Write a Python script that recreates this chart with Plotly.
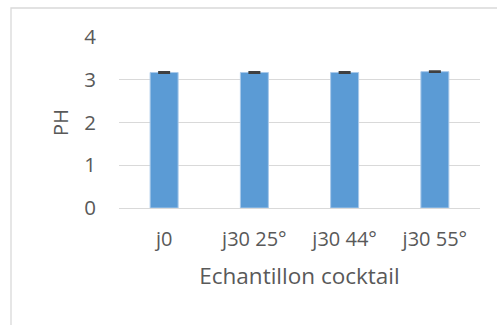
import plotly.graph_objects as go

# pH measurements per cocktail sample
categories = ["j0", "j30 25°", "j30 44°", "j30 55°"]
ph_values = [3.17, 3.17, 3.17, 3.19]
ph_errors = [0.01, 0.01, 0.01, 0.01]
y_ticks = [0, 1, 2, 3, 4]

text_color = "#595959"
grid_color = "#d9d9d9"
font_family = "Open Sans"

W, H = 497, 325
ml, mr, mt, mb = 119, 17, 37, 117
pw, ph = W - ml - mr, H - mt - mb


def px_to_paper_x(px):
    return (px - ml) / pw


def px_to_paper_y(py):
    return (H - mb - py) / ph


fig = go.Figure(
    go.Bar(
        x=categories,
        y=ph_values,
        width=0.31,
        marker=dict(color="#5b9bd5", line=dict(color="#a9c9ea", width=1)),
        error_y=dict(type="data", array=ph_errors, visible=True,
                     color="#404040", thickness=2, width=6),
    )
)

fig.update_layout(
    width=W,
    height=H,
    margin=dict(l=ml, r=mr, t=mt, b=mb),
    paper_bgcolor="white",
    plot_bgcolor="white",
    showlegend=False,
    font=dict(family=font_family, color=text_color, size=20),
    xaxis=dict(
        showgrid=False,
        showline=False,
        ticks="",
        ticklabelstandoff=17,
        tickfont=dict(size=20, color=text_color),
        title=dict(text="Echantillon cocktail", font=dict(size=22.5, color=text_color), standoff=17),
    ),
    yaxis=dict(
        range=[0, 4],
        tickvals=y_ticks,
        showgrid=True,
        gridcolor=grid_color,
        gridwidth=1.3,
        zeroline=True,
        zerolinecolor=grid_color,
        zerolinewidth=1.3,
        showline=False,
        ticks="",
        ticklabelstandoff=22,
        tickfont=dict(size=20.5, color=text_color),
        title=dict(text="PH", font=dict(size=20, color=text_color), standoff=10),
    ),
    shapes=[
        dict(
            type="rect",
            xref="paper", yref="paper",
            x0=px_to_paper_x(11), x1=px_to_paper_x(510),
            y0=px_to_paper_y(340), y1=px_to_paper_y(8),
            line=dict(color=grid_color, width=1.3),
            fillcolor="rgba(0,0,0,0)",
            layer="below",
        )
    ],
)

fig.write_html("out.html")
